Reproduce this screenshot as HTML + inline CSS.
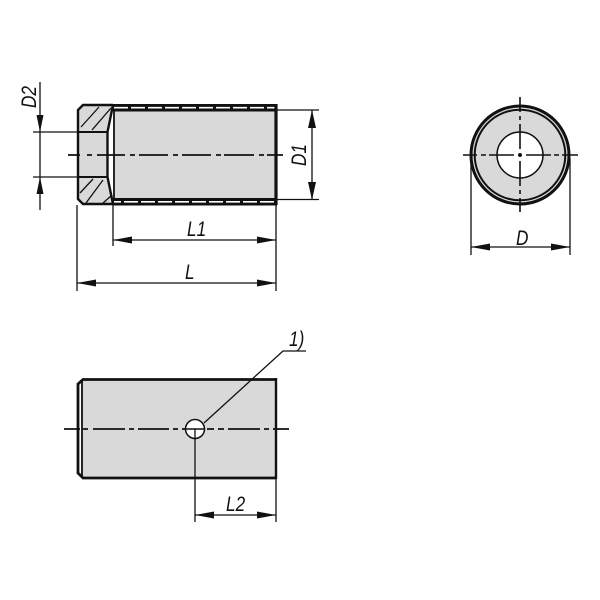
<!DOCTYPE html>
<html>
<head>
<meta charset="utf-8">
<style>
html,body{margin:0;padding:0;background:#fff}
svg{display:block}
text{font-family:"Liberation Sans",sans-serif;font-style:italic;fill:#111;font-size:21px}
</style>
</head>
<body>
<svg width="600" height="600" viewBox="0 0 600 600" xmlns="http://www.w3.org/2000/svg">
<rect width="600" height="600" fill="#fff"/>

<!-- Top left view -->
<rect x="115" y="108" width="161" height="94" fill="#d9d9d9"/>
<path d="M78 112 L83 106 L113 106 L107 132 L78 132Z M78 177 L107 177 L113 203 L83 203 L78 198Z" fill="#d9d9d9"/>
<rect x="78" y="132" width="30" height="45" fill="#d9d9d9"/>
<g stroke="#111" stroke-width="1.300" fill="none">
<path d="M81 127 L99 107 M92 130 L111 108 M80 193 L93 179 M86 203 L103 180 M103 203 L112 195"/>
</g>
<!-- threaded bands -->
<rect x="113" y="104" width="164" height="7.500" fill="#111"/>
<rect x="113" y="198" width="164" height="7.500" fill="#111"/>
<path d="M114 107.700H276" stroke="#fff" stroke-width="1.700" stroke-dasharray="14 3" fill="none"/>
<path d="M114 201.800H276" stroke="#fff" stroke-width="1.700" stroke-dasharray="14 3" stroke-dashoffset="7" fill="none"/>
<path d="M276 104V205" stroke="#111" stroke-width="3.200" fill="none"/>
<path d="M114 110V199" stroke="#111" stroke-width="1.800" fill="none"/>
<path d="M113 105 L107.500 132 V177 L113 204" stroke="#111" stroke-width="2.400" fill="none"/>
<path d="M113 105 H83 L78 110 V199 L83 204 H113" stroke="#111" stroke-width="2.400" fill="none"/>
<path d="M78 132H107 M78 177H107" stroke="#111" stroke-width="2" fill="none"/>
<path d="M68 155H80 M87 155H92 M97 155H125 M130 155H135 M139 155H168 M173 155H178 M182 155H211 M216 155H221 M224 155H254 M259 155H264 M267 155H283" stroke="#111" stroke-width="1.700" fill="none"/>

<!-- Dimensions, top left -->
<g stroke="#111" stroke-width="1.300" fill="none">
<path d="M33 132H78 M33 177H78"/>
<path d="M40 82V210"/>
<path d="M277 110H319 M277 199.500H319"/>
<path d="M312 110V200"/>
<path d="M77 205V291 M113 205V246 M276 205V291"/>
<path d="M113 240H276 M77 283H276"/>
</g>
<g fill="#111">
<path d="M40 132L36.500 115H43.500Z M40 177L36.500 194H43.500Z"/>
<path d="M312 110L308 128H316Z M312 200L308 182H316Z"/>
<path d="M113 240L132 236.500V243.500Z M276 240L257 236.500V243.500Z"/>
<path d="M77 283L96 279.500V286.500Z M276 283L257 279.500V286.500Z"/>
</g>
<text transform="translate(36 108) rotate(-90) scale(.82 1)">D2</text>
<text transform="translate(306 166) rotate(-90) scale(.82 1)">D1</text>
<text transform="translate(187 236) scale(.82 1)">L1</text>
<text transform="translate(185 279) scale(.82 1)">L</text>

<!-- Circle view -->
<circle cx="520" cy="155" r="48" fill="#d9d9d9" stroke="none"/>
<circle cx="520" cy="155" r="49" fill="none" stroke="#111" stroke-width="3"/>
<circle cx="520" cy="155" r="45.300" fill="none" stroke="#111" stroke-width="2"/>
<circle cx="520" cy="155" r="23" fill="#fff" stroke="#111" stroke-width="1.500"/>
<path d="M463 155H477 M481 155H486 M489 155H514 M526 155H551 M554 155H559 M562 155H578" stroke="#111" stroke-width="1.600" fill="none"/>
<path d="M520 97V112 M520 116V120 M520 124V149 M520 161V186 M520 190V194 M520 198V212" stroke="#111" stroke-width="1.600" fill="none"/>
<circle cx="520" cy="155" r="2" fill="#111"/>
<g stroke="#111" stroke-width="1.300" fill="none">
<path d="M471 158V255 M570 158V255 M471 247H570"/>
</g>
<path d="M471 247L490 243.500V250.500Z M570 247L551 243.500V250.500Z" fill="#111"/>
<text transform="translate(516 245) scale(.82 1)">D</text>

<!-- Bottom view -->
<rect x="81" y="380" width="195" height="98" fill="#d9d9d9"/>
<path d="M276 379.500H83 L78 384 V473 L83 478 H276" fill="none" stroke="#111" stroke-width="2.800"/>
<path d="M276 378V479" stroke="#111" stroke-width="2.400" fill="none"/>
<path d="M82 380V478" stroke="#111" stroke-width="1.800" fill="none"/>
<path d="M64 429H80 M83 429H88 M93 429H125 M129 429H134 M138 429H169 M173 429H178 M182 429H186 M207 429H214 M218 429H224 M228 429H260 M264 429H269 M273 429H289" stroke="#111" stroke-width="1.700" fill="none"/>
<circle cx="195" cy="429" r="9.500" fill="#fff" stroke="#111" stroke-width="1.500"/>
<path d="M186 429H204" stroke="#111" stroke-width="1.500" fill="none"/>
<g stroke="#111" stroke-width="1.300" fill="none">
<path d="M204 423L283 351H306"/>
<path d="M195 429V522 M276 478V522 M195 515H276"/>
</g>
<path d="M195 515L214 511.500V518.500Z M276 515L257 511.500V518.500Z" fill="#111"/>
<text transform="translate(226 511) scale(.82 1)">L2</text>
<text transform="translate(289 346) scale(.82 1)">1)</text>
</svg>
</body>
</html>
